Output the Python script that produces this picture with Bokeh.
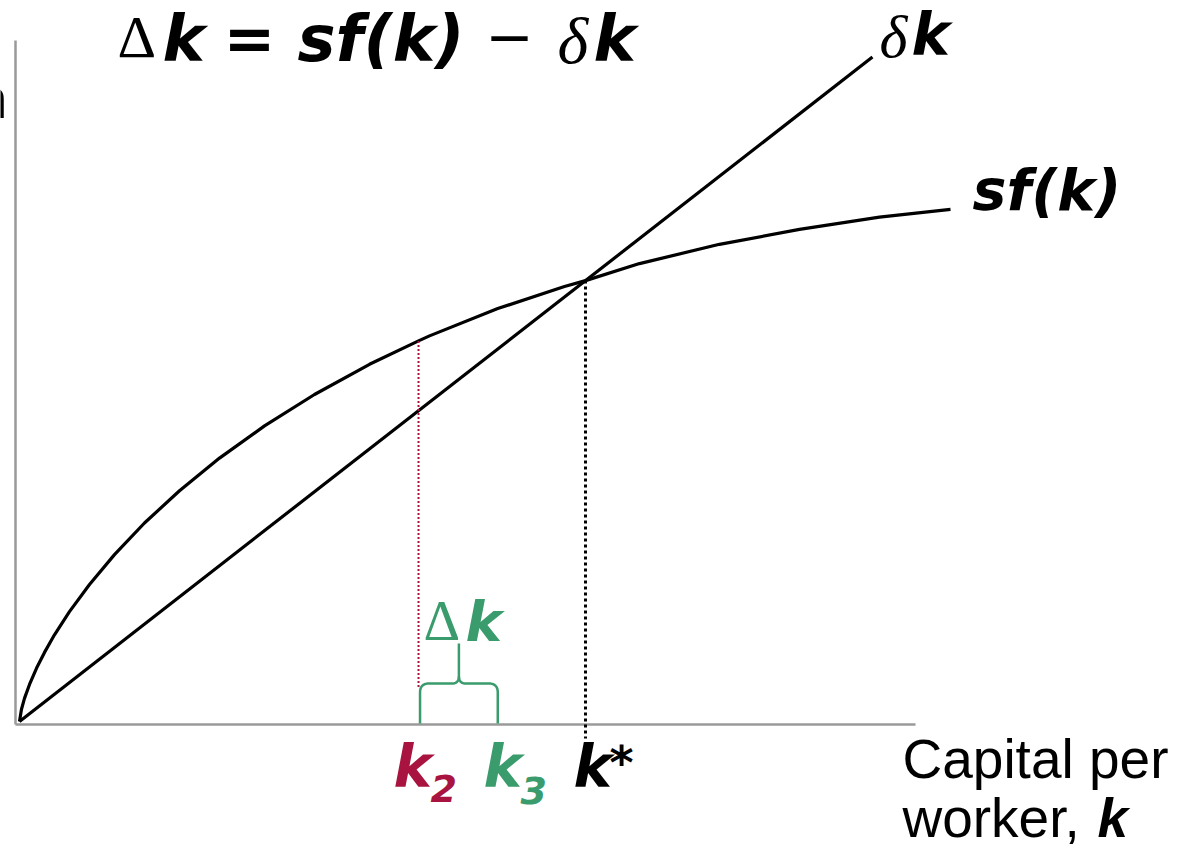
from bokeh.plotting import figure
from bokeh.models import Range1d, Label
from bokeh.embed import file_html
from bokeh.resources import INLINE

# ---------------- data ----------------
# capital per worker k and saving curve s*f(k)
k_vals = [0.0, 0.035, 0.088, 0.177, 0.300, 0.442, 0.618, 0.883, 1.237, 1.678,
          2.208, 2.827, 3.534, 4.329, 5.212, 6.184, 7.05, 7.244, 8.45, 9.629,
          10.0, 10.954, 12.367, 13.781, 15.194, 16.449]
sf_vals = [0.0, 0.0279, 0.0524, 0.0840, 0.1207, 0.1567, 0.1966, 0.2493, 0.3107,
           0.3785, 0.4502, 0.5233, 0.5974, 0.6704, 0.7417, 0.8102, 0.8632,
           0.8746, 0.9365, 0.9866, 1.0, 1.0386, 1.0823, 1.1161, 1.1438, 1.1617]
# depreciation line delta*k
dep_k = [0.0, 15.07]
dep_vals = [0.0, 1.507]
# marked capital levels
k2 = 7.05
k3 = 8.45
k_star = 10.0
sf_k2 = 0.8632
sf_kstar = 1.0

# ---------------- layout ----------------
W, H = 1172, 852
X0, Y0 = 19.0, 721.0          # pixel of the origin inside the figure
SX, SY = 56.6, 440.9          # pixels per data unit


def X(px):
    return (px - X0) / SX


def Y(py):
    return (Y0 - py) / SY


p = figure(width=W, height=H, output_backend="svg", toolbar_location=None,
           x_range=Range1d(X(0), X(W)), y_range=Range1d(Y(H), Y(0)),
           x_axis_location=None, y_axis_location=None, min_border=0,
           outline_line_color=None, background_fill_color="white",
           border_fill_color="white")
p.grid.visible = False

AX = "#9a9a9a"
# axes lines
p.segment(x0=[X(15), X(15)], y0=[Y(724), Y(724)], x1=[X(915), X(15)],
          y1=[Y(724), Y(40)], line_color=AX, line_width=2.5)

# curves
p.line(k_vals, sf_vals, line_color="black", line_width=3.2)
p.line(dep_k, dep_vals, line_color="black", line_width=3.2)

CRIM = "#A8143F"
GREEN = "#3A9C6C"

# dotted guides
p.line([k_star, k_star], [sf_kstar, Y(738)], line_color="black", line_width=3,
       line_dash="3 3")
p.line([k2, k2], [sf_k2, Y(688)], line_color=CRIM, line_width=2,
       line_dash="2 2")


# brace between k2 and k3
def quad(a, b, c, n=10):
    pts = []
    for i in range(n + 1):
        t = i / n
        pts.append(((1 - t) ** 2 * a[0] + 2 * (1 - t) * t * b[0] + t ** 2 * c[0],
                    (1 - t) ** 2 * a[1] + 2 * (1 - t) * t * b[1] + t ** 2 * c[1]))
    return pts


L = X0 + k2 * SX + 1.5
R = X0 + k3 * SX
M = (L + R) / 2
top, base, stem = 683, 723, 643
left = [(L, base), (L, top + 9)] + quad((L, top + 9), (L, top), (L + 9, top)) + \
       [(M - 7, top)] + quad((M - 7, top), (M, top), (M, top - 7)) + [(M, stem)]
right = [(R, base), (R, top + 9)] + quad((R, top + 9), (R, top), (R - 9, top)) + \
        [(M + 7, top)] + quad((M + 7, top), (M, top), (M, top - 7))
p.multi_line([[X(a) for a, b in left], [X(a) for a, b in right]],
             [[Y(b) for a, b in left], [Y(b) for a, b in right]],
             line_color=GREEN, line_width=2.5)


def lab(text, px, py, size, font="DejaVu Sans", style="bold italic",
        color="black", align="left"):
    # py is the wanted baseline; the label is anchored 0.4 em above it
    p.add_layout(Label(x=X(px), y=Y(py - 0.4 * size), text=text,
                       text_font=font, text_font_size=f"{size}px",
                       text_font_style=style, text_color=color,
                       text_align=align, text_baseline="alphabetic"))


# clipped fragment of the vertical axis title
lab("n", 7, 120, 56, font="Liberation Sans", style="normal", align="right")

# title
lab("Δ", 117, 60, 60, font="Liberation Serif", style="normal")
lab("k", 162, 64, 64)
lab("=", 249, 63, 62, style="bold", align="center")
lab("sf(k)", 297, 64, 64)
lab("−", 509, 58, 58, style="normal", align="center")
lab("δ", 557, 66, 66, font="Liberation Serif", style="italic")
lab("k", 593, 64, 64)

# curve labels
lab("δ", 879, 60, 60, font="Liberation Serif", style="italic")
lab("k", 911, 58, 58)
lab("sf(k)", 972, 212, 57)

# delta k over brace
lab("Δ", 423, 643, 57, font="Liberation Serif", style="normal", color=GREEN)
lab("k", 465, 643, 55, color=GREEN)

# k labels on the axis
lab("k", 393, 790, 58, color=CRIM)
lab("2", 430, 803, 38, color=CRIM)
lab("k", 483, 790, 58, color=GREEN)
lab("3", 520, 805, 38, color=GREEN)
lab("k", 573, 790, 58)
lab("*", 609, 781, 46, style="bold")

# x axis title
lab("Capital per", 902, 780, 55, font="Liberation Sans", style="normal")
lab("worker,", 902, 839, 55, font="Liberation Sans", style="normal")
lab("k", 1097, 839, 55, font="Liberation Sans", style="bold italic")

open("out.html", "w").write(file_html(p, INLINE))
